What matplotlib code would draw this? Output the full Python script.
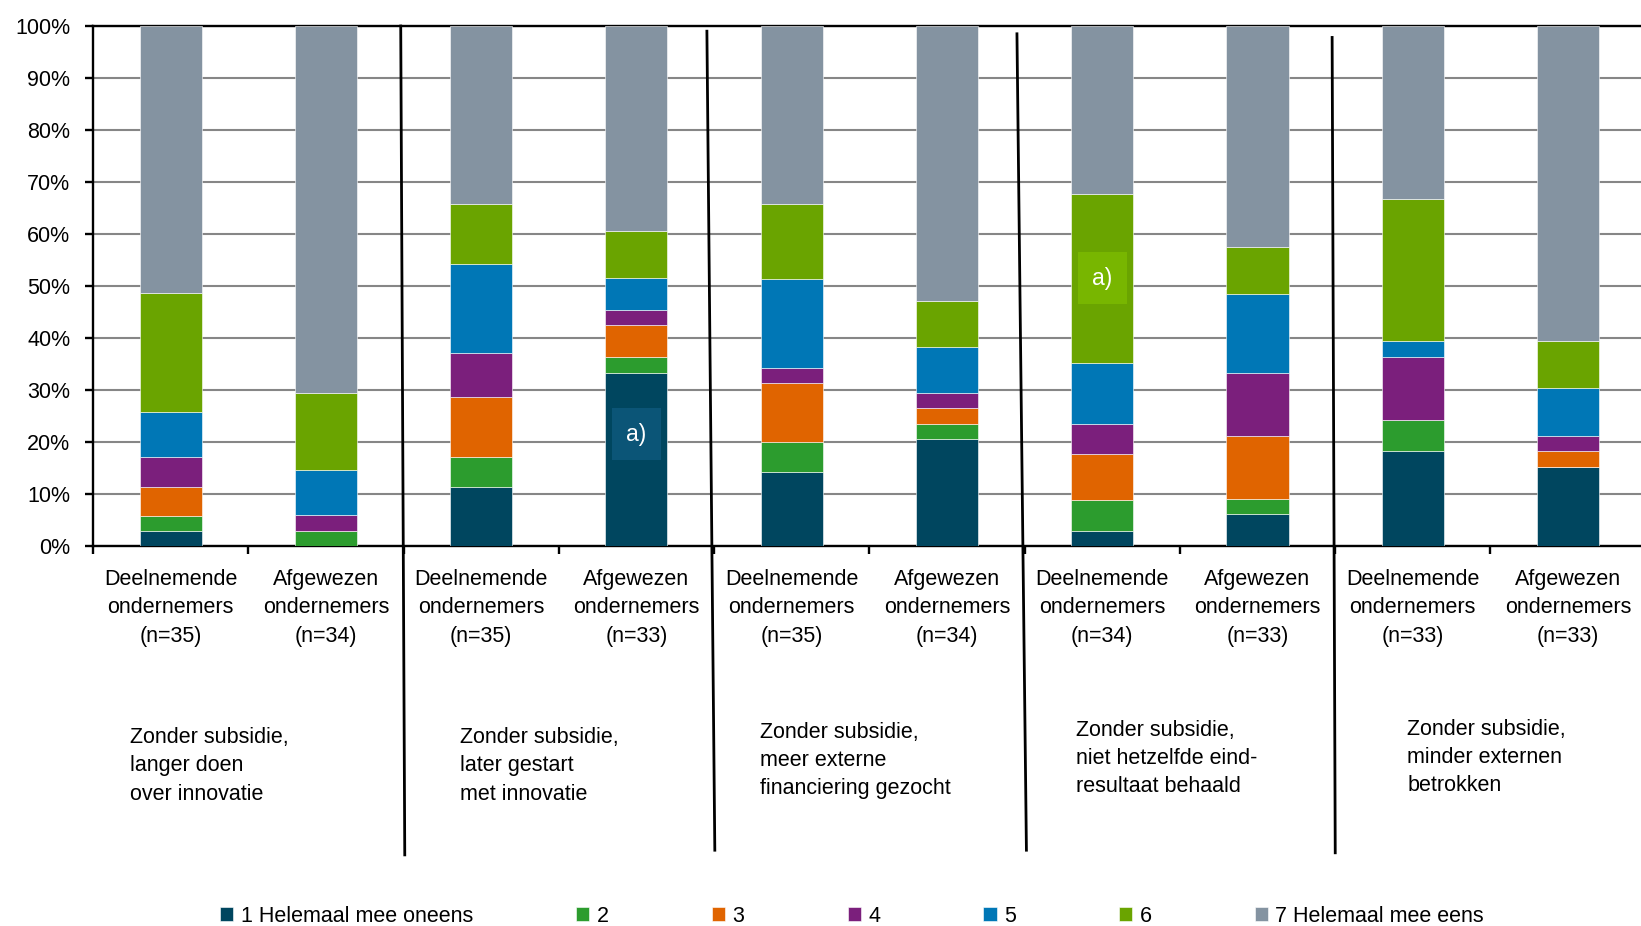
import matplotlib.pyplot as plt
import matplotlib.transforms as mtransforms
import numpy as np

plt.rcParams['font.family'] = ['Liberation Sans', 'DejaVu Sans']

# labels onder de staven
bar_labels = [
    'Deelnemende\nondernemers\n(n=35)', 'Afgewezen\nondernemers\n(n=34)',
    'Deelnemende\nondernemers\n(n=35)', 'Afgewezen\nondernemers\n(n=33)',
    'Deelnemende\nondernemers\n(n=35)', 'Afgewezen\nondernemers\n(n=34)',
    'Deelnemende\nondernemers\n(n=34)', 'Afgewezen\nondernemers\n(n=33)',
    'Deelnemende\nondernemers\n(n=33)', 'Afgewezen\nondernemers\n(n=33)',
]

group_labels = [
    'Zonder subsidie,\nlanger doen\nover innovatie',
    'Zonder subsidie,\nlater gestart\nmet innovatie',
    'Zonder subsidie,\nmeer externe\nfinanciering gezocht',
    'Zonder subsidie,\nniet hetzelfde eind-\nresultaat behaald',
    'Zonder subsidie,\nminder externen\nbetrokken',
]

legend_labels = ['1 Helemaal mee oneens', '2', '3', '4', '5', '6', '7 Helemaal mee eens']

# percentages per antwoordcategorie (1 t/m 7), per staaf
score_1 = [2.86, 0.00, 11.43, 33.33, 14.29, 20.59, 2.94, 6.06, 18.18, 15.15]
score_2 = [2.86, 2.94, 5.71, 3.03, 5.71, 2.94, 5.88, 3.03, 6.06, 0.00]
score_3 = [5.71, 0.00, 11.43, 6.06, 11.43, 2.94, 8.82, 12.12, 0.00, 3.03]
score_4 = [5.71, 2.94, 8.57, 3.03, 2.86, 2.94, 5.88, 12.12, 12.12, 3.03]
score_5 = [8.57, 8.82, 17.14, 6.06, 17.14, 8.82, 11.76, 15.15, 3.03, 9.09]
score_6 = [22.86, 14.71, 11.43, 9.09, 14.29, 8.82, 32.35, 9.09, 27.27, 9.09]
score_7 = [51.43, 70.59, 34.29, 39.39, 34.29, 52.94, 32.35, 42.42, 33.33, 60.61]
scores = [score_1, score_2, score_3, score_4, score_5, score_6, score_7]

colors = ['#00465f', '#2c9c2e', '#e06400', '#7b1f7c', '#0077b6', '#6aa400', '#8493a1']

# "a)" markeringen: (staaf, hoogte in %, kleur vak)
notes = [(3, 21.5, '#0b5577'), (6, 51.5, '#78b600')]

fig = plt.figure(figsize=(16.41, 9.26), dpi=100)
ax = fig.add_axes([93 / 1641, 1 - 546 / 926, 1552.6 / 1641, 520 / 926])

x = np.arange(len(bar_labels))
bottom = np.zeros(len(x))
for vals, lab, col in zip(scores, legend_labels, colors):
    ax.bar(x, vals, 0.4, bottom=bottom, color=col, label=lab,
           edgecolor='white', linewidth=0.4, zorder=3)
    bottom += np.array(vals)

for i, y, fc in notes:
    ax.text(i, y, 'a)', ha='center', va='center', color='white', fontsize=16.5, zorder=4,
            bbox=dict(boxstyle='square,pad=0.62', fc=fc, ec='none'))

ax.set_xlim(-0.5, 9.5)
ax.set_ylim(0, 100)
ax.set_yticks(np.arange(0, 101, 10))
ax.set_yticklabels([f'{v}%' for v in range(0, 101, 10)])
ax.grid(axis='y', color='#868686', linewidth=1.5, zorder=0)
ax.set_axisbelow(True)

ax.set_xticks(x)
ax.set_xticklabels(bar_labels, linespacing=1.46)
ax.set_xticks(np.arange(-0.5, 9.6, 1), minor=True)
ax.tick_params(axis='x', which='major', length=0, pad=16.5, labelsize=15.5)
ax.tick_params(axis='x', which='minor', length=5.8, width=1.7, direction='out')
ax.tick_params(axis='y', length=5.8, width=1.7, pad=10.5, labelsize=15.5)

for s in ['left', 'bottom', 'top']:
    ax.spines[s].set_linewidth(1.7)
ax.spines['right'].set_visible(False)

# scheidingslijnen tussen de stellingen
trans = mtransforms.blended_transform_factory(ax.transData, ax.transAxes)
sep_pos = [1.5, 3.5, 5.5, 7.5]
sep_top = [(-0.018, 1.0), (-0.046, 0.990), (-0.049, 0.985), (-0.019, 0.978)]
sep_bot = [(0.008, -0.594), (0.005, -0.585), (0.012, -0.585), (0.001, -0.590)]
for b, (dxt, yt), (dxb, yb) in zip(sep_pos, sep_top, sep_bot):
    ax.plot([b + dxt, b + dxb], [yt, yb], color='black', lw=2,
            transform=trans, clip_on=False, zorder=5)

# stellingen onder de groepen
group_x = [-0.264, 1.862, 3.795, 5.831, 7.964]
group_y = [-0.348, -0.348, -0.338, -0.334, -0.332]
for gx, gy, txt in zip(group_x, group_y, group_labels):
    ax.text(gx, gy, txt, transform=trans, ha='left', va='top',
            fontsize=15.5, linespacing=1.46)

fig.legend(loc='center', bbox_to_anchor=(852 / 1641, 1 - 916 / 926), ncol=7,
           frameon=False, fontsize=15.5, handlelength=0.62, handleheight=0.62,
           handletextpad=0.33, columnspacing=4.8)

fig.savefig('out.png', dpi=100)
